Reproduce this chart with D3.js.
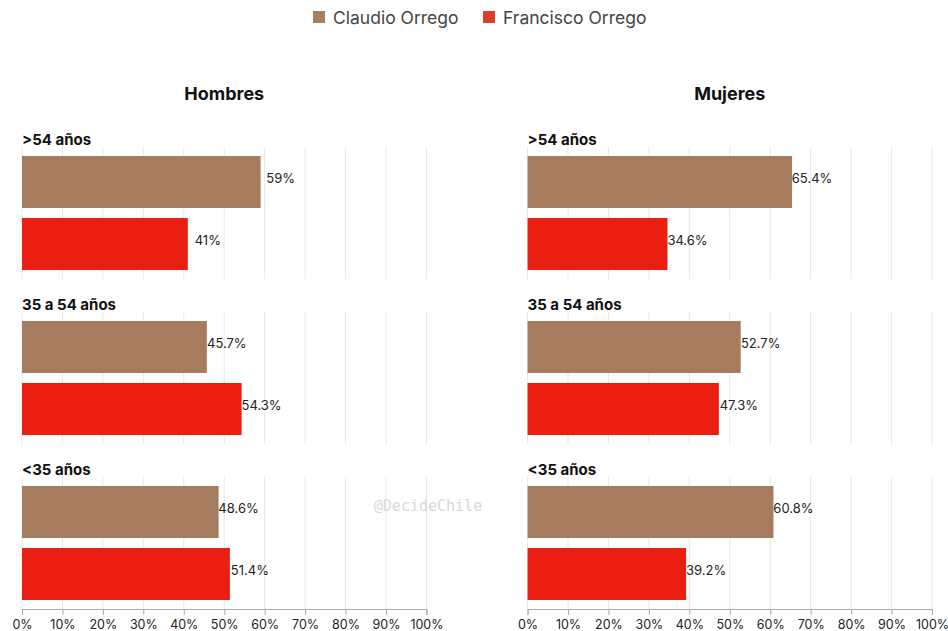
<!DOCTYPE html>
<html><head><meta charset="utf-8">
<script src="https://cdn.jsdelivr.net/npm/d3@7"></script>
<style>
body{margin:0;background:#fff;}
svg{display:block;font-family:Inter,"Open Sans",sans-serif;}
</style></head>
<body><svg id="c" width="948" height="631"></svg>
<script>
const panels = ["Hombres", "Mujeres"];
const groups = [">54 años", "35 a 54 años", "<35 años"];
const series = ["Claudio Orrego", "Francisco Orrego"];
const barColors = ["#a57c5e", "#ea1e11"];
const legendColors = ["#a3805f", "#dc3d26"];
const claudioHombres = [59, 45.7, 48.6];
const franciscoHombres = [41, 54.3, 51.4];
const claudioMujeres = [65.4, 52.7, 60.8];
const franciscoMujeres = [34.6, 47.3, 39.2];
const tickValues = [0, 10, 20, 30, 40, 50, 60, 70, 80, 90, 100];
const watermark = "@DecideChile";

const values = {
  "Hombres": [claudioHombres, franciscoHombres],
  "Mujeres": [claudioMujeres, franciscoMujeres]
};

const svg = d3.select("#c");

// legend
const leg = svg.append("g");
const legX = [313, 483];
series.forEach((s, i) => {
  leg.append("rect").attr("x", legX[i]).attr("y", 11).attr("width", 12).attr("height", 12).attr("fill", legendColors[i]);
  leg.append("text").attr("x", legX[i] + 20).attr("y", 24).attr("font-size", 17.5).attr("fill", "#444").text(s);
});

const panelX = d3.scaleBand().domain(panels).range([22, 932]).paddingInner(0.2).paddingOuter(0);
const groupY = d3.scaleBand().domain(groups).range([147, 609]).paddingInner(33/165).paddingOuter(0);
const barY = d3.scaleBand().domain(series).range([0, groupY.bandwidth()]).paddingInner(10/62).paddingOuter(0.145);

panels.forEach(p => {
  const x0 = panelX(p), w = panelX.bandwidth();
  const x = d3.scaleLinear().domain([0, 100]).range([x0, x0 + w]);
  const g = svg.append("g");

  g.append("text").attr("x", x0 + w / 2).attr("y", 100).attr("text-anchor", "middle")
    .attr("font-size", 18).attr("font-weight", 700).attr("fill", "#111").text(p);

  groups.forEach((grp, gi) => {
    const gy = groupY(grp);
    g.selectAll(null).data(tickValues).enter().append("line")
      .attr("x1", d => x(d)).attr("x2", d => x(d))
      .attr("y1", gy).attr("y2", gy + groupY.bandwidth())
      .attr("stroke", "#e8e8e8").attr("stroke-width", 1);
    g.append("text").attr("x", x0).attr("y", gy - 2).attr("font-size", 15).attr("font-weight", 700)
      .attr("fill", "#111").text(grp);
    series.forEach((s, si) => {
      const v = values[p][si][gi];
      g.append("rect").attr("x", x(0)).attr("y", gy + barY(s))
        .attr("width", x(v) - x(0)).attr("height", barY.bandwidth())
        .attr("fill", barColors[si]);
      g.append("text").attr("x", x(v) + 20).attr("y", gy + barY(s) + barY.bandwidth() / 2 + 1)
        .attr("text-anchor", "middle").attr("font-size", 13).attr("fill", "#222")
        .text(d3.format("~")(v) + "%");
    });
  });

  const axis = d3.axisBottom(x).tickValues(tickValues).tickSize(6).tickFormat(d => d + "%");
  const ax = g.append("g").attr("transform", "translate(0,609)").call(axis);
  ax.select(".domain").attr("stroke", "#aaa");
  ax.selectAll(".tick line").attr("stroke", "#aaa");
  ax.selectAll(".tick text").attr("font-size", 12.5).attr("fill", "#222")
    .attr("font-family", "Inter,sans-serif").attr("y", 11).attr("dy", "0.71em");
});

svg.append("text").attr("x", 428).attr("y", 511).attr("text-anchor", "middle")
  .attr("font-family", "'DejaVu Sans Mono',monospace").attr("font-size", 15).attr("fill", "#d8d8d8")
  .text(watermark);
</script></body></html>
